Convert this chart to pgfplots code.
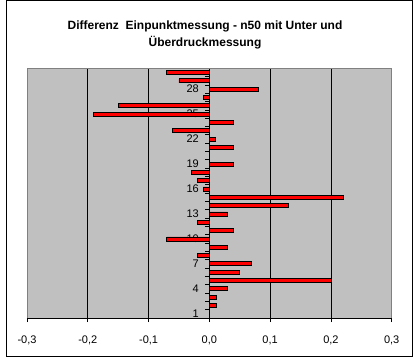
\documentclass[border=0pt]{standalone}
\usepackage{pgfplots}
\pgfplotsset{compat=1.18}
\usepackage{fontspec}
\setmainfont{Liberation Sans}
\definecolor{bggray}{HTML}{C0C0C0}
\definecolor{bordergray}{HTML}{808080}
\begin{document}
\begin{tikzpicture}
\useasboundingbox (0pt,0pt) rectangle (418pt,362pt);
\draw[line width=1pt] (6pt,6pt) rectangle (412.5pt,361.5pt);
\node[font=\bfseries\fontsize{12}{17}\selectfont, align=center] at (205pt,327.5pt)
  {Differenz\ \ Einpunktmessung - n50 mit Unter und\\Überdruckmessung};
\begin{axis}[
  at={(27pt,44pt)}, anchor=south west,
  scale only axis, width=364.7pt, height=249.7pt,
  xmin=-0.3, xmax=0.3, ymin=0.5, ymax=30.5,
  axis x line=bottom, axis y line=center,
  axis line style={-, black, line width=0.8pt},
  /pgf/number format/assume math mode=true,
  xtick={-0.3,-0.2,-0.1,0,0.1,0.2,0.3},
  xticklabel style={font=\fontsize{11}{13}\selectfont, yshift=-10pt,
    /pgf/number format/.cd, fixed, fixed zerofill, precision=1, use comma},
  xmajorgrids,
  major grid style={black, line width=0.8pt},
  tick align=outside,
  major tick length=4pt,
  minor tick length=4pt,
  tick style={black, line width=0.8pt},
  ytick={1,4,7,10,13,16,19,22,25,28},
  minor ytick={0.5,1.5,...,30.5},
  major y tick style={draw=none},
  yticklabel style={font=\fontsize{11}{13}\selectfont, xshift=-3pt},
  axis background/.style={fill=bggray},
  clip=false,
]
\addplot[xbar, bar width=4pt, fill=red, draw=black, line width=0.8pt]
coordinates {
(0,1) (0.012,2) (0.011,3) (0.03,4) (0.2,5) (0.05,6) (0.07,7) (-0.02,8)
(0.03,9) (-0.07,10) (0.04,11) (-0.02,12) (0.03,13) (0.13,14) (0.22,15)
(-0.01,16) (-0.02,17) (-0.03,18) (0.04,19) (0,20) (0.04,21) (0.01,22)
(-0.06,23) (0.04,24) (-0.19,25) (-0.15,26) (-0.01,27) (0.08,28)
(-0.05,29) (-0.07,30)
};
\draw[bordergray, line width=0.8pt] (rel axis cs:0,0) -- (rel axis cs:0,1) -- (rel axis cs:1,1) -- (rel axis cs:1,0);
\end{axis}
\end{tikzpicture}
\end{document}
